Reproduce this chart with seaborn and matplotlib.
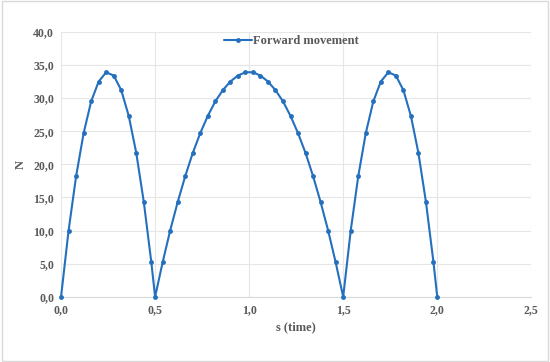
import matplotlib.pyplot as plt
import pandas as pd
import seaborn as sns
from matplotlib.patches import Rectangle
from matplotlib.ticker import FuncFormatter

# data (time in s, force in N)
hump_x1 = [0.00, 0.04, 0.08, 0.12, 0.16, 0.20, 0.24, 0.28, 0.32, 0.36, 0.40, 0.44, 0.48, 0.50]
hump_y1 = [0.0, 10.0, 18.2, 24.7, 29.5, 32.5, 33.9, 33.4, 31.2, 27.3, 21.7, 14.3, 5.2, 0.0]
hump_x2 = [0.54, 0.58, 0.62, 0.66, 0.70, 0.74, 0.78, 0.82, 0.86, 0.90, 0.94, 0.98,
           1.02, 1.06, 1.10, 1.14, 1.18, 1.22, 1.26, 1.30, 1.34, 1.38, 1.42, 1.46, 1.50]
hump_y2 = [5.2, 10.0, 14.3, 18.2, 21.7, 24.7, 27.3, 29.5, 31.2, 32.5, 33.4, 33.9,
           33.9, 33.4, 32.5, 31.2, 29.5, 27.3, 24.7, 21.7, 18.2, 14.3, 10.0, 5.2, 0.0]
hump_x3 = [1.54, 1.58, 1.62, 1.66, 1.70, 1.74, 1.78, 1.82, 1.86, 1.90, 1.94, 1.98, 2.00]
hump_y3 = [10.0, 18.2, 24.7, 29.5, 32.5, 33.9, 33.4, 31.2, 27.3, 21.7, 14.3, 5.2, 0.0]

df = pd.DataFrame({'s': hump_x1 + hump_x2 + hump_x3,
                   'N': hump_y1 + hump_y2 + hump_y3})

sns.set_theme(style="white")
plt.rcParams['font.family'] = ['Liberation Serif', 'DejaVu Serif']

gray = '#595959'
blue = '#2470BE'

fig = plt.figure(figsize=(5.5, 3.62), dpi=100)
ax = fig.add_axes([0.111, 0.18, 0.855, 0.732])

sns.lineplot(data=df, x='s', y='N', ax=ax, color=blue, linewidth=1.5,
             marker='o', markersize=3.5, markeredgewidth=0, label='Forward movement',
             clip_on=False, zorder=3)

ax.set_xlim(0, 2.5)
ax.set_ylim(0, 40)
ax.set_xticks([0, 0.5, 1.0, 1.5, 2.0, 2.5])
ax.set_yticks(range(0, 41, 5))
comma = FuncFormatter(lambda v, p: f'{v:.1f}'.replace('.', ','))
ax.xaxis.set_major_formatter(comma)
ax.yaxis.set_major_formatter(comma)
ax.tick_params(axis='both', length=0, labelsize=8.5, colors=gray, pad=5)
for lbl in ax.get_xticklabels() + ax.get_yticklabels():
    lbl.set_fontweight('bold')

ax.grid(True, color='#E6E6E6', linewidth=0.8)
for side in ['top', 'right', 'left']:
    ax.spines[side].set_visible(False)
ax.spines['bottom'].set_color('#D9D9D9')
ax.spines['bottom'].set_linewidth(0.8)

ax.set_xlabel('s (time)', fontsize=9, fontweight='bold', color=gray, labelpad=4)
ax.set_ylabel('N', fontsize=9, fontweight='bold', color=gray)
ax.yaxis.set_label_coords(-0.072, 0.5)

leg = ax.legend(loc='upper center', bbox_to_anchor=(0.49, 1.03), frameon=False,
                handlelength=2.2, handletextpad=0.1,
                prop={'weight': 'bold', 'size': 9})
for t in leg.get_texts():
    t.set_color(gray)

fig.patches.append(Rectangle((0.003, 0.003), 0.994, 0.994, transform=fig.transFigure,
                             fill=False, edgecolor='#D9D9D9', linewidth=1))

fig.savefig('out.png', dpi=100)
